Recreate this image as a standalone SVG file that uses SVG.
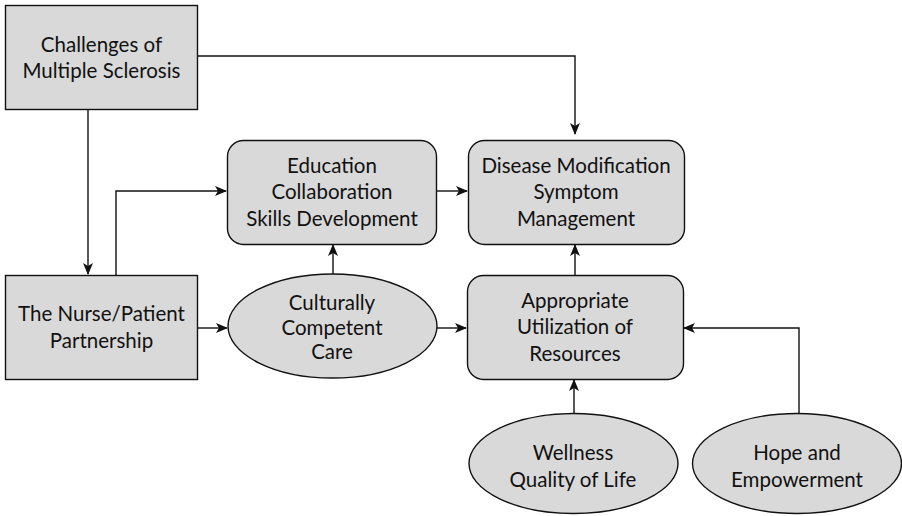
<svg xmlns="http://www.w3.org/2000/svg" width="902" height="516" viewBox="0 0 902 516">
  <style>
    .box { fill: #d9d9d9; stroke: #111; stroke-width: 1.4; }
    .lbl { font-family: Lato, "Liberation Sans", sans-serif; font-size: 20.5px; fill: #111; text-anchor: middle; }
    .edge { fill: none; stroke: #111; stroke-width: 1.4; }
  </style>
  <defs>
    <marker id="arrow" viewBox="0 0 12 10" refX="11" refY="5" markerWidth="12" markerHeight="10" markerUnits="userSpaceOnUse" orient="auto">
      <path d="M0,0 L12,5 L0,10 L3,5 Z" fill="#111"/>
    </marker>
  </defs>
  <rect width="902" height="516" fill="#ffffff"/>

  <g id="connectors">
    <path class="edge" d="M198,56 H575 V134" marker-end="url(#arrow)"/>
    <path class="edge" d="M88,110 V274" marker-end="url(#arrow)"/>
    <path class="edge" d="M116,275 V191 H226" marker-end="url(#arrow)"/>
    <path class="edge" d="M437,191 H467" marker-end="url(#arrow)"/>
    <path class="edge" d="M333,274 V245" marker-end="url(#arrow)"/>
    <path class="edge" d="M575,275 V245" marker-end="url(#arrow)"/>
    <path class="edge" d="M198,328 H227" marker-end="url(#arrow)"/>
    <path class="edge" d="M437,328 H466" marker-end="url(#arrow)"/>
    <path class="edge" d="M574,413 V380" marker-end="url(#arrow)"/>
    <path class="edge" d="M799,413 V328 H684" marker-end="url(#arrow)"/>
  </g>

  <g id="challenges">
    <rect class="box" x="5.5" y="5.5" width="192" height="104"/>
    <text class="lbl" x="101.5" y="52">Challenges of</text>
    <text class="lbl" x="101.5" y="78">Multiple Sclerosis</text>
  </g>

  <g id="education">
    <rect class="box" x="227.5" y="140.5" width="209" height="104" rx="16"/>
    <text class="lbl" x="332" y="173">Education</text>
    <text class="lbl" x="332" y="199">Collaboration</text>
    <text class="lbl" x="332" y="226">Skills Development</text>
  </g>

  <g id="disease">
    <rect class="box" x="468.5" y="140.5" width="216" height="104" rx="16"/>
    <text class="lbl" x="576" y="173">Disease Modification</text>
    <text class="lbl" x="576" y="199">Symptom</text>
    <text class="lbl" x="576" y="226">Management</text>
  </g>

  <g id="nurse">
    <rect class="box" x="5.5" y="275.5" width="192" height="104"/>
    <text class="lbl" x="101.5" y="321">The Nurse/Patient</text>
    <text class="lbl" x="101.5" y="348">Partnership</text>
  </g>

  <g id="culture">
    <ellipse class="box" cx="332.5" cy="326" rx="104.5" ry="52"/>
    <text class="lbl" x="332" y="310">Culturally</text>
    <text class="lbl" x="332" y="335">Competent</text>
    <text class="lbl" x="332" y="359">Care</text>
  </g>

  <g id="resources">
    <rect class="box" x="467.5" y="275.5" width="216" height="104" rx="16"/>
    <text class="lbl" x="575" y="308">Appropriate</text>
    <text class="lbl" x="575" y="334">Utilization of</text>
    <text class="lbl" x="575" y="361">Resources</text>
  </g>

  <g id="wellness">
    <ellipse class="box" cx="573.5" cy="463.5" rx="104.5" ry="50"/>
    <text class="lbl" x="573" y="460">Wellness</text>
    <text class="lbl" x="573" y="487">Quality of Life</text>
  </g>

  <g id="hope">
    <ellipse class="box" cx="797" cy="463.5" rx="104.5" ry="50"/>
    <text class="lbl" x="797" y="460">Hope and</text>
    <text class="lbl" x="797" y="487">Empowerment</text>
  </g>
</svg>
